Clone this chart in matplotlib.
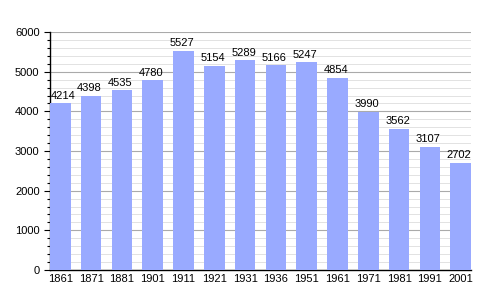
import matplotlib
matplotlib.use("Agg")
import matplotlib.pyplot as plt
from matplotlib.ticker import MultipleLocator

years = ["1861", "1871", "1881", "1901", "1911", "1921", "1931", "1936", "1951", "1961", "1971", "1981", "1991", "2001"]
population = [4214, 4398, 4535, 4780, 5527, 5154, 5289, 5166, 5247, 4854, 3990, 3562, 3107, 2702]

plt.rcParams['font.family'] = ['Liberation Sans', 'DejaVu Sans']

fig = plt.figure(figsize=(5, 3), dpi=100)
ax = fig.add_axes([0.1, 0.1, 0.842, 0.793])

x = list(range(len(years)))
ax.bar(x, population, width=0.67, color="#99aaff", zorder=3)
for xi, v in zip(x, population):
    if xi == 0:
        ax.text(-0.3, v + 60, str(v), ha="left", va="bottom", fontsize=8, zorder=4)
    else:
        ax.text(xi - 0.05, v + 60, str(v), ha="center", va="bottom", fontsize=8, zorder=4)

ax.set_xlim(-0.335, len(years) - 1 + 0.335)
ax.set_ylim(0, 6000)
ax.set_xticks(x)
ax.set_xticklabels(years, fontsize=8)
ax.yaxis.set_major_locator(MultipleLocator(1000))
ax.yaxis.set_minor_locator(MultipleLocator(200))
ax.tick_params(axis="y", which="major", labelsize=8, length=4, width=0.8)
ax.tick_params(axis="y", which="minor", length=2, width=0.8)
ax.tick_params(axis="x", length=0, pad=3)
ax.grid(axis="y", which="major", color="#aaaaaa", linewidth=0.8, zorder=0)
ax.grid(axis="y", which="minor", color="#dddddd", linewidth=0.6, zorder=0)
for s in ["top", "right"]:
    ax.spines[s].set_visible(False)
ax.spines["left"].set_linewidth(1)
ax.spines["bottom"].set_linewidth(1)

fig.savefig("out.png", dpi=100)
